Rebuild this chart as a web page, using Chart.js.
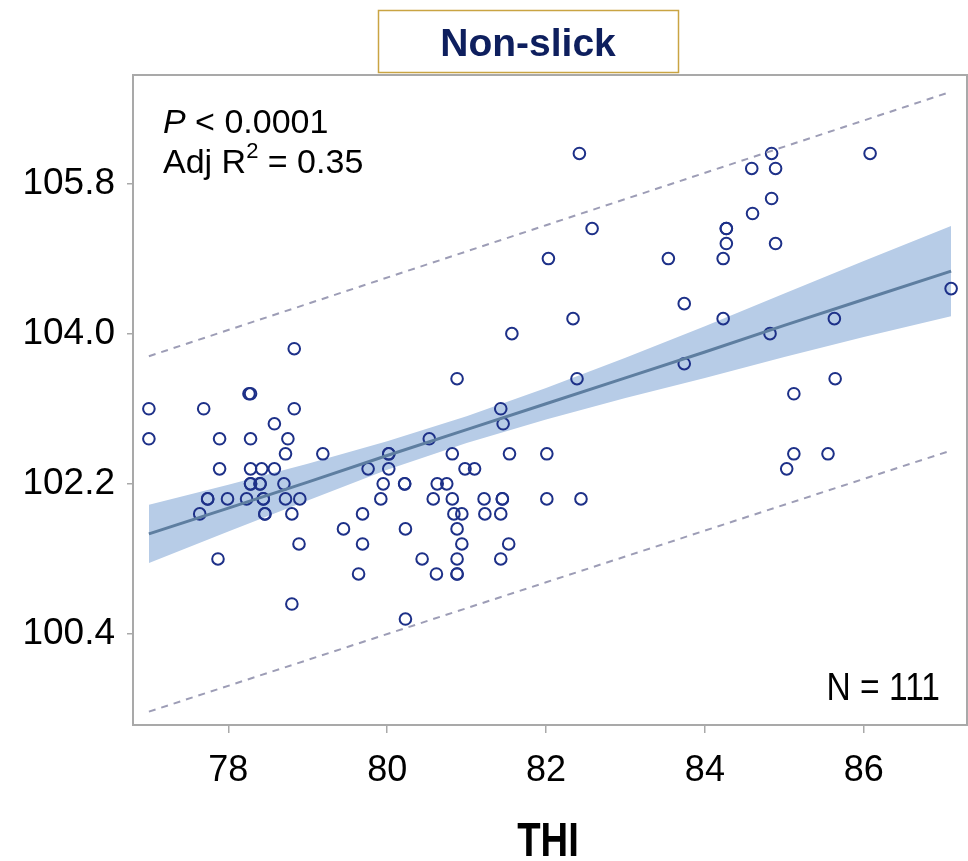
<!DOCTYPE html>
<html>
<head>
<meta charset="utf-8">
<script src="https://cdn.jsdelivr.net/npm/chart.js@4/dist/chart.umd.min.js"></script>
<style>
  html, body { margin: 0; padding: 0; background: #fff; }
  #wrap { width: 968px; height: 861px; }
</style>
</head>
<body>
<div id="wrap"><canvas id="chart" width="968" height="861"></canvas></div>
<script>
// THI vs rectal temperature (F), non-slick animals
const thi = [
  82.42, 84.84, 86.08,
  84.59, 84.89,
  84.84,
  84.60,
  82.58, 84.27, 84.27,
  84.27, 84.89,
  82.03, 83.54, 84.23,
  87.10,
  83.74,
  82.34, 84.23, 85.63,
  81.57, 84.82,
  78.83,
  83.74,
  80.88, 82.39, 85.64,
  78.26, 78.28, 85.12,
  77.00, 77.69, 78.83, 81.43,
  78.58, 81.46,
  77.00, 77.89, 78.28, 78.75, 80.53,
  78.72, 79.19, 80.02, 80.02, 80.82, 81.54, 82.01, 85.12, 85.55,
  77.89, 78.28, 78.42, 78.58, 79.76, 80.02, 80.98, 81.10, 85.03,
  78.28, 78.28, 78.40, 78.40, 78.70, 79.95, 80.22, 80.22, 80.63, 80.75,
  77.74, 77.74, 77.99, 78.23, 78.44, 78.44, 78.72, 78.90, 79.92, 80.58, 80.82, 81.22, 81.45, 81.45, 82.01, 82.44,
  77.64, 78.46, 78.46, 78.80, 79.69, 80.84, 80.94, 81.23, 81.43,
  79.45, 80.23, 80.88,
  78.89, 79.69, 80.94, 81.53,
  77.87, 80.44, 80.88, 81.43,
  79.64, 80.62, 80.88, 80.88,
  78.80,
  80.23
];
const rectalTemp = [
  106.16, 106.16, 106.16,
  105.98, 105.98,
  105.62,
  105.44,
  105.26, 105.26, 105.26,
  105.08, 105.08,
  104.90, 104.90, 104.90,
  104.54,
  104.36,
  104.18, 104.18, 104.18,
  104.00, 104.00,
  103.82,
  103.64,
  103.46, 103.46, 103.46,
  103.28, 103.28, 103.28,
  103.10, 103.10, 103.10, 103.10,
  102.92, 102.92,
  102.74, 102.74, 102.74, 102.74, 102.74,
  102.56, 102.56, 102.56, 102.56, 102.56, 102.56, 102.56, 102.56, 102.56,
  102.38, 102.38, 102.38, 102.38, 102.38, 102.38, 102.38, 102.38, 102.38,
  102.20, 102.20, 102.20, 102.20, 102.20, 102.20, 102.20, 102.20, 102.20, 102.20,
  102.02, 102.02, 102.02, 102.02, 102.02, 102.02, 102.02, 102.02, 102.02, 102.02, 102.02, 102.02, 102.02, 102.02, 102.02, 102.02,
  101.84, 101.84, 101.84, 101.84, 101.84, 101.84, 101.84, 101.84, 101.84,
  101.66, 101.66, 101.66,
  101.48, 101.48, 101.48, 101.48,
  101.30, 101.30, 101.30, 101.30,
  101.12, 101.12, 101.12, 101.12,
  100.76,
  100.58
];

// fitted line and 95% confidence band
const fitX    = [77.0, 78, 79, 80, 81, 82, 83, 84, 85, 86, 87.1];
const fitY    = [101.60, 101.91, 102.22, 102.54, 102.85, 103.16, 103.47, 103.78, 104.10, 104.41, 104.75];
const ciUpper = [101.95, 102.19, 102.44, 102.71, 103.01, 103.35, 103.71, 104.09, 104.48, 104.87, 105.29];
const ciLower = [101.25, 101.63, 102.00, 102.37, 102.69, 102.97, 103.23, 103.47, 103.72, 103.96, 104.21];

// prediction limits (dashed)
const piX     = [77.0, 82.0, 87.1];
const piUpper = [103.73, 105.30, 106.90];
const piLower = [99.47, 101.02, 102.60];

const xTicks = [78, 80, 82, 84, 86];
const yTicks = [100.4, 102.2, 104.0, 105.8];

const zip = (xs, ys) => xs.map((x, i) => ({ x: x, y: ys[i] }));

const frameColor = '#a9a9a9';
const sans = '"Liberation Sans", Arial, sans-serif';

// narrow-looking text: squeeze horizontally
function squeezedText(ctx, text, x, y, sx) {
  ctx.save();
  ctx.translate(x, y);
  ctx.scale(sx, 1);
  ctx.fillText(text, 0, 0);
  ctx.restore();
}

// extra drawing: frame, title box, annotations
const decorations = {
  id: 'decorations',
  afterDraw(chart) {
    const ctx = chart.ctx;
    const a = chart.chartArea;
    ctx.save();

    // plot frame
    ctx.strokeStyle = frameColor;
    ctx.lineWidth = 2;
    ctx.strokeRect(a.left, a.top, a.right - a.left, a.bottom - a.top);

    // title box
    ctx.strokeStyle = '#c9a443';
    ctx.lineWidth = 1.5;
    ctx.strokeRect(378.5, 10.5, 300, 62);
    ctx.fillStyle = '#0e1f5e';
    ctx.font = 'bold 39px ' + sans;
    ctx.textAlign = 'center';
    ctx.textBaseline = 'alphabetic';
    ctx.fillText('Non-slick', 528, 56);

    // stats text
    ctx.fillStyle = '#000';
    ctx.textAlign = 'left';
    ctx.font = 'italic 34px ' + sans;
    ctx.fillText('P', 163, 133);
    let w = ctx.measureText('P').width;
    ctx.font = '34px ' + sans;
    ctx.fillText(' < 0.0001', 163 + w, 133);

    ctx.fillText('Adj R', 163, 173);
    w = ctx.measureText('Adj R').width;
    ctx.font = '22px ' + sans;
    ctx.fillText('2', 163 + w, 158);
    const w2 = ctx.measureText('2').width;
    ctx.font = '34px ' + sans;
    ctx.fillText(' = 0.35', 163 + w + w2, 173);

    // N
    ctx.font = '39px ' + sans;
    ctx.textAlign = 'right';
    squeezedText(ctx, 'N = 111', 940, 700, 0.86);

    // x axis title
    ctx.font = 'bold 49px ' + sans;
    ctx.textAlign = 'center';
    squeezedText(ctx, 'THI', 548, 856, 0.78);

    ctx.restore();
  }
};

const ctx = document.getElementById('chart').getContext('2d');
new Chart(ctx, {
  type: 'scatter',
  data: {
    datasets: [
      {
        data: zip(fitX, ciUpper),
        showLine: true,
        pointRadius: 0,
        borderWidth: 0,
        borderColor: 'rgba(0,0,0,0)',
        backgroundColor: '#b7cce7',
        fill: '+1',
        tension: 0
      },
      {
        data: zip(fitX, ciLower),
        showLine: true,
        pointRadius: 0,
        borderWidth: 0,
        borderColor: 'rgba(0,0,0,0)',
        fill: false,
        tension: 0
      },
      {
        data: zip(fitX, fitY),
        showLine: true,
        pointRadius: 0,
        borderWidth: 3,
        borderColor: '#5e7ea0',
        fill: false,
        tension: 0
      },
      {
        data: zip(piX, piUpper),
        showLine: true,
        pointRadius: 0,
        borderWidth: 2,
        borderDash: [7, 6],
        borderColor: '#9d9db6',
        fill: false
      },
      {
        data: zip(piX, piLower),
        showLine: true,
        pointRadius: 0,
        borderWidth: 2,
        borderDash: [7, 6],
        borderColor: '#9d9db6',
        fill: false
      },
      {
        data: zip(thi, rectalTemp),
        pointStyle: 'circle',
        pointRadius: 5.8,
        borderWidth: 2,
        borderColor: '#1d3088',
        backgroundColor: 'rgba(0,0,0,0)'
      }
    ]
  },
  options: {
    responsive: false,
    animation: false,
    layout: { autoPadding: false, padding: { top: 75, right: 1, left: 0, bottom: 0 } },
    plugins: {
      legend: { display: false },
      tooltip: { enabled: false },
      title: { display: false },
      filler: { drawTime: 'beforeDatasetsDraw' }
    },
    scales: {
      x: {
        type: 'linear',
        min: 76.8,
        max: 87.3,
        afterFit(scale) {
          scale.height = 136;
          scale.paddingLeft = 0;
          scale.paddingRight = 0;
        },
        afterBuildTicks(scale) { scale.ticks = xTicks.map(v => ({ value: v })); },
        ticks: {
          color: '#000',
          padding: 16,
          font: { family: sans, size: 36 },
          callback: v => String(v)
        },
        grid: { drawOnChartArea: false, drawTicks: true, tickLength: 8, color: frameColor, lineWidth: 1.5 },
        border: { color: frameColor, width: 2 }
      },
      y: {
        type: 'linear',
        min: 99.31,
        max: 107.1,
        afterFit(scale) { scale.width = 133; },
        afterBuildTicks(scale) { scale.ticks = yTicks.map(v => ({ value: v })); },
        ticks: {
          color: '#000',
          padding: 12,
          font: { family: sans, size: 37 },
          callback: v => v.toFixed(1)
        },
        grid: { drawOnChartArea: false, drawTicks: true, tickLength: 6, color: frameColor, lineWidth: 1.5 },
        border: { color: frameColor, width: 2 }
      }
    }
  },
  plugins: [decorations]
});
</script>
</body>
</html>
